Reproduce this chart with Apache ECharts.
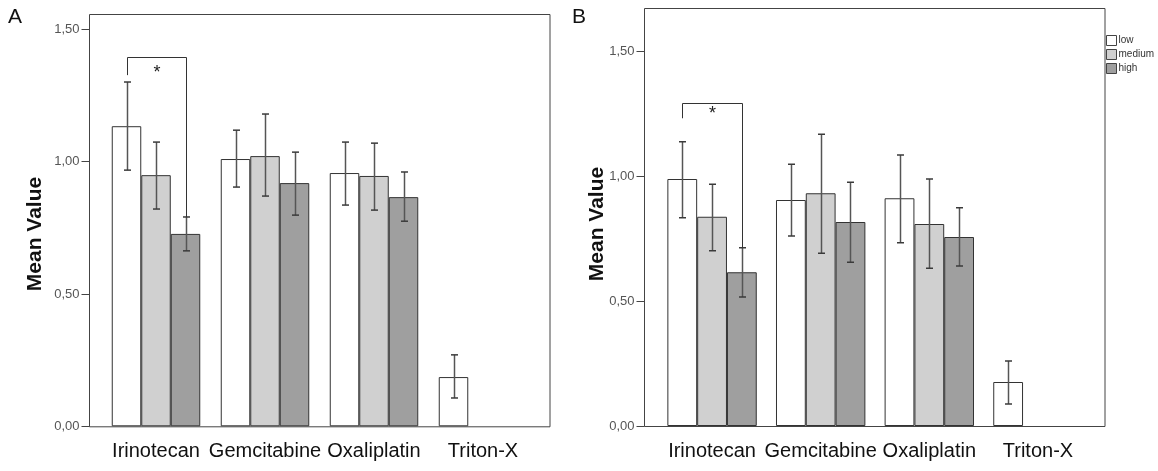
<!DOCTYPE html>
<html><head><meta charset="utf-8">
<script src="https://cdn.jsdelivr.net/npm/echarts@6/dist/echarts.min.js"></script>
<style>html,body{margin:0;padding:0;background:#fff}#c{width:1158px;height:471px}</style>
</head><body><div id="c"></div>
<script>
// ---- data ----
const categories = ['Irinotecan', 'Gemcitabine', 'Oxaliplatin', 'Triton-X'];
const levels = ['low', 'medium', 'high'];
const yTickValues = [0, 0.5, 1, 1.5];
const yTickLabels = ['0,00', '0,50', '1,00', '1,50'];

// Panel A means
const aLow = [1.134, 1.010, 0.957, 0.186];
const aMedium = [0.949, 1.021, 0.946, null];
const aHigh = [0.727, 0.919, 0.866, null];
// Panel A error bars [lower, upper]
const aLowErr = [[0.968, 1.301], [0.904, 1.119], [0.836, 1.074], [0.107, 0.270]];
const aMediumErr = [[0.821, 1.074], [0.870, 1.180], [0.817, 1.070], null];
const aHighErr = [[0.663, 0.791], [0.798, 1.036], [0.775, 0.961], null];
// Panel A bracket: [category, bar top y, left leg end, right leg end, star y]
const aBracket = [0, 1.395, 1.327, 0.791, 1.336];

// Panel B means
const bLow = [0.988, 0.904, 0.911, 0.176];
const bMedium = [0.837, 0.931, 0.808, null];
const bHigh = [0.615, 0.816, 0.756, null];
const bLowErr = [[0.833, 1.137], [0.760, 1.047], [0.733, 1.084], [0.088, 0.260]];
const bMediumErr = [[0.701, 0.967], [0.691, 1.167], [0.631, 0.988], null];
const bHighErr = [[0.516, 0.713], [0.655, 0.975], [0.640, 0.873], null];
const bBracket = [0, 1.293, 1.231, 0.713, 1.247];

// ---- layout ----
const A = {left: 101.5, top: 14, width: 436, height: 412.3, frameL: 89.5, frameR: 550, max: 1.558, barW: 29.5};
const B = {left: 657.75, top: 8, width: 434.5, height: 418, frameL: 644.5, frameR: 1105, max: 1.672, barW: 29.8};
const colors = {low: '#ffffff', medium: '#d0d0d0', high: '#9f9f9f'};
const FONT = '"Liberation Sans", Arial, sans-serif';

const chart = echarts.init(document.getElementById('c'));

function xAxisFor(gi) {
  return {
    type: 'category', gridIndex: gi, data: categories,
    axisLine: {show: false}, axisTick: {show: false},
    axisLabel: {interval: 0, color: '#111', fontSize: 20, fontFamily: FONT, margin: 15}
  };
}
function yAxisFor(gi, P) {
  return {
    type: 'value', gridIndex: gi, min: 0, max: P.max, interval: 0.5,
    offset: P.left - P.frameL,
    axisLine: {show: false},
    splitLine: {show: false},
    axisTick: {show: true, length: 8, customValues: yTickValues, lineStyle: {color: '#444', width: 1}},
    axisLabel: {
      customValues: yTickValues, color: '#555', fontSize: 13, fontFamily: FONT, margin: 10,
      formatter: v => yTickLabels[yTickValues.indexOf(Math.round(v * 100) / 100)] || ''
    }
  };
}

function barSeries(gi, name, data, P) {
  return {
    type: 'bar', name: name, xAxisIndex: gi, yAxisIndex: gi, data: data,
    barWidth: P.barW, barGap: '0%',
    itemStyle: {color: colors[name], borderColor: '#333', borderWidth: 1},
    emphasis: {disabled: true}, z: 2
  };
}

function errSeries(gi, levelIdx, errs, P) {
  const data = [];
  errs.forEach((e, i) => { if (e) data.push([i, e[1], e[0]]); });
  return {
    type: 'custom', xAxisIndex: gi, yAxisIndex: gi, data: data, z: 5, silent: true,
    encode: {x: 0, y: [1, 2]},
    renderItem: function (params, api) {
      const hi = api.coord([api.value(0), api.value(1)]);
      const lo = api.coord([api.value(0), api.value(2)]);
      const x = Math.round(hi[0] + (levelIdx - 1) * P.barW) + 0.5;
      const cap = 3.5;
      const s = {stroke: '#3a3a3a', lineWidth: 1.5};
      return {type: 'group', children: [
        {type: 'line', shape: {x1: x, y1: hi[1], x2: x, y2: lo[1]}, style: {stroke: '#555', lineWidth: 1.5}},
        {type: 'line', shape: {x1: x - cap, y1: hi[1], x2: x + cap, y2: hi[1]}, style: s},
        {type: 'line', shape: {x1: x - cap, y1: lo[1], x2: x + cap, y2: lo[1]}, style: s}
      ]};
    }
  };
}

function bracketSeries(gi, br, P) {
  return {
    type: 'custom', xAxisIndex: gi, yAxisIndex: gi, data: [br], z: 6, silent: true,
    encode: {x: 0, y: 1},
    renderItem: function (params, api) {
      const c = api.value(0);
      const top = api.coord([c, api.value(1)]);
      const lEnd = api.coord([c, api.value(2)]);
      const rEnd = api.coord([c, api.value(3)]);
      const star = api.coord([c, api.value(4)]);
      const xl = Math.round(top[0] - P.barW) + 0.5;
      const xr = Math.round(top[0] + P.barW) + 0.5;
      const yt = Math.round(top[1]) + 0.5;
      return {type: 'group', children: [
        {type: 'polyline', shape: {points: [[xl, lEnd[1]], [xl, yt], [xr, yt], [xr, rEnd[1]]]}, style: {stroke: '#333', lineWidth: 1, fill: null}},
        {type: 'text', x: (xl + xr) / 2, y: star[1], style: {text: '*', fontSize: 18, fontFamily: FONT, fill: '#222', align: 'center', verticalAlign: 'middle'}}
      ]};
    }
  };
}

function frame(P) {
  return {type: 'rect', shape: {x: P.frameL, y: P.top + 0.5, width: P.frameR - P.frameL, height: P.height}, style: {fill: null, stroke: '#444', lineWidth: 1}, z: 10, silent: true};
}

const option = {
  backgroundColor: '#fff',
  animation: false,
  grid: [
    {left: A.left, top: A.top, width: A.width, height: A.height},
    {left: B.left, top: B.top, width: B.width, height: B.height}
  ],
  xAxis: [xAxisFor(0), xAxisFor(1)],
  yAxis: [yAxisFor(0, A), yAxisFor(1, B)],
  legend: {
    data: levels, orient: 'vertical', left: 1106, top: 35,
    itemWidth: 10, itemHeight: 10, itemGap: 3, icon: 'rect', padding: 0,
    itemStyle: {borderColor: '#444', borderWidth: 1},
    textStyle: {fontSize: 10, color: '#333', fontFamily: FONT, padding: [0, 0, 0, -3]},
    selectedMode: false
  },
  series: [
    barSeries(0, 'low', aLow, A), barSeries(0, 'medium', aMedium, A), barSeries(0, 'high', aHigh, A),
    errSeries(0, 0, aLowErr, A), errSeries(0, 1, aMediumErr, A), errSeries(0, 2, aHighErr, A),
    bracketSeries(0, aBracket, A),
    barSeries(1, 'low', bLow, B), barSeries(1, 'medium', bMedium, B), barSeries(1, 'high', bHigh, B),
    errSeries(1, 0, bLowErr, B), errSeries(1, 1, bMediumErr, B), errSeries(1, 2, bHighErr, B),
    bracketSeries(1, bBracket, B)
  ],
  graphic: [
    frame(A), frame(B),
    {type: 'text', x: 8, y: 7, style: {text: 'A', fontSize: 21, fontFamily: FONT, fill: '#111'}},
    {type: 'text', x: 572, y: 7, style: {text: 'B', fontSize: 21, fontFamily: FONT, fill: '#111'}},
    {type: 'text', x: 35, y: 234, rotation: Math.PI / 2, style: {text: 'Mean Value', fontSize: 21, fontWeight: 'bold', fontFamily: FONT, fill: '#111', align: 'center', verticalAlign: 'middle'}},
    {type: 'text', x: 597, y: 224, rotation: Math.PI / 2, style: {text: 'Mean Value', fontSize: 21, fontWeight: 'bold', fontFamily: FONT, fill: '#111', align: 'center', verticalAlign: 'middle'}}
  ]
};
chart.setOption(option);
</script>
</body></html>
